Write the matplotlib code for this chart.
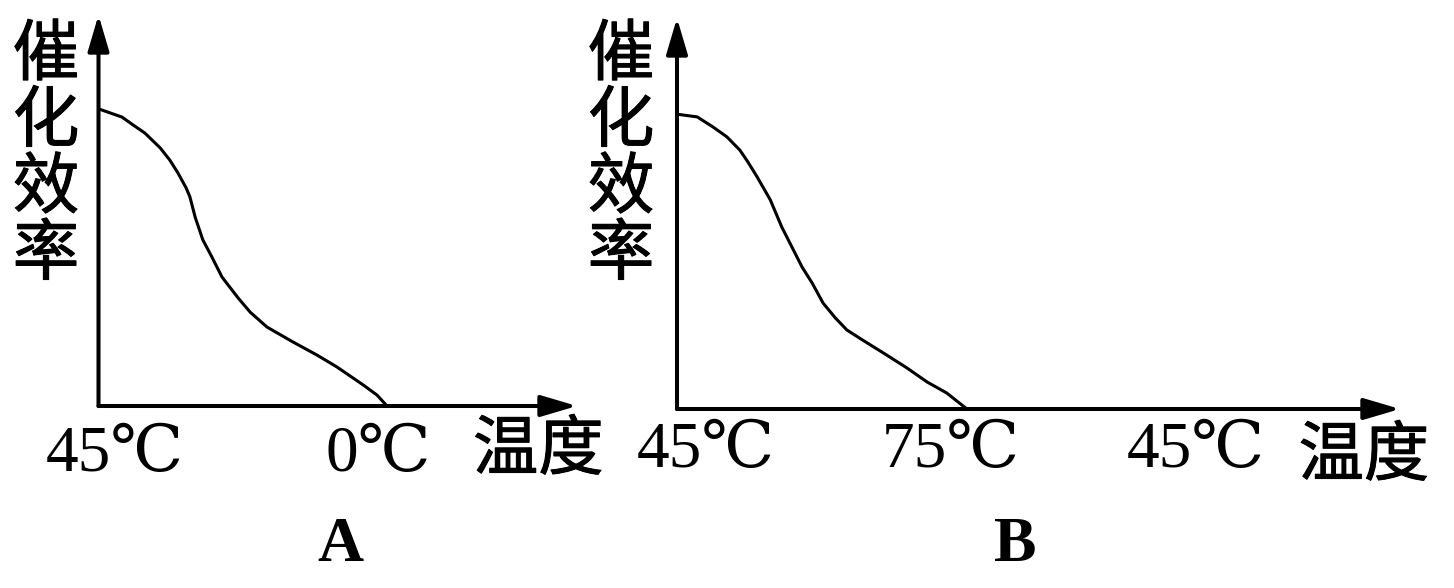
import matplotlib
matplotlib.use("Agg")
import matplotlib.pyplot as plt
import matplotlib.patheffects as pe
import numpy as np

W, H = 1454, 588

# ---------------- data ----------------
# Panel A curve (x: relative temperature position 0-100, y: catalytic efficiency 0-100)
a_x = [0.0, 4.9, 7.2, 9.7, 12.9, 14.9, 16.6, 18.3, 19.1, 20.2, 21.8, 23.7, 25.8,
       29.2, 31.7, 35.2, 40.6, 45.7, 49.8, 55.3, 58.2, 60.3]
a_y = [76.0, 73.9, 71.9, 69.8, 66.0, 62.9, 59.6, 55.8, 53.5, 48.3, 42.5, 38.1, 33.0,
       27.6, 24.0, 20.2, 16.4, 13.0, 10.0, 5.4, 2.8, 0.0]
a_tick_pos = [3.4, 58.4]
a_tick_labels = ["45℃", "0℃"]

# Panel B curve
b_x = [0.0, 2.8, 5.0, 6.9, 8.7, 9.8, 11.1, 12.9, 14.5, 15.6, 17.3, 18.7, 20.2,
       21.9, 23.5, 25.7, 29.0, 31.8, 34.6, 37.3, 40.1]
b_y = [75.4, 74.7, 72.1, 69.6, 66.2, 63.2, 59.3, 53.5, 46.5, 42.5, 36.3, 32.2, 27.1,
       23.3, 20.2, 17.6, 13.8, 10.5, 6.9, 4.1, 0.0]
b_tick_pos = [4.0, 37.9, 71.8]
b_tick_labels = ["45℃", "75℃", "45℃"]

y_label = "催化效率"
x_label = "温度"
panel_names = ["A", "B"]

CJK = ["Noto Sans CJK SC", "DejaVu Sans"]
SERIF = ["Liberation Serif", "DejaVu Serif", "Noto Sans CJK SC"]
thick = [pe.withStroke(linewidth=0.7, foreground="black")]

fig = plt.figure(figsize=(W / 100, H / 100), dpi=100)
fig.patch.set_facecolor("white")


def make_axes(x0, y0, x1, y1):
    # x0,y0 = origin pixel (from top-left), x1 = x arrow tip, y1 = y arrow tip
    return fig.add_axes([x0 / W, 1 - y0 / H, (x1 - x0) / W, (y0 - y1) / H])


def draw_panel(ax, xs, ys, tpos, tlabels, baseline_off, xl_pos, xl_off,
               ylab_x, name_xy):
    ax.set_xlim(0, 100)
    ax.set_ylim(0, 100)
    ax.axis("off")
    ax.plot(xs, ys, color="black", lw=2.2, solid_capstyle="round",
            solid_joinstyle="round", clip_on=False)
    arrow = dict(arrowstyle="-|>,head_length=22,head_width=6.5",
                 mutation_scale=1, color="black", lw=2.9,
                 shrinkA=0, shrinkB=0)
    ax.annotate("", xy=(1, 0), xytext=(0, 0), xycoords="axes fraction",
                arrowprops=arrow)
    ax.annotate("", xy=(0, 1), xytext=(0, 0), xycoords="axes fraction",
                arrowprops=arrow)
    tr = ax.get_xaxis_transform()
    bbox = ax.get_position()
    hpx = bbox.height * H
    for p, lab in zip(tpos, tlabels):
        ax.text(p, -baseline_off / hpx, lab, transform=tr, ha="center",
                va="baseline", fontsize=47, family=SERIF, color="black")
    ax.text(xl_pos, -xl_off / hpx, x_label, transform=tr, ha="center",
            va="center", fontsize=47, family=CJK, color="black",
            path_effects=thick)
    for i, ch in enumerate(y_label):
        fig.text(ylab_x / W, 1 - (56 + i * 66.5) / H, ch, ha="center",
                 va="center", fontsize=48, family=CJK, color="black",
                 path_effects=thick)
    fig.text(name_xy[0] / W, 1 - name_xy[1] / H, name_xy[2], ha="center",
             va="center", fontsize=46, family=SERIF, weight="bold",
             color="black")


axA = make_axes(98.5, 406, 577, 15)
draw_panel(axA, a_x, a_y, a_tick_pos, a_tick_labels, 65, 91.9, 45,
           46, (340, 546, panel_names[0]))

axB = make_axes(677, 409, 1400, 18)
draw_panel(axB, b_x, b_y, b_tick_pos, b_tick_labels, 58, 95.0, 48,
           621, (1015, 546, panel_names[1]))

fig.savefig("out.png", dpi=100, facecolor="white")
